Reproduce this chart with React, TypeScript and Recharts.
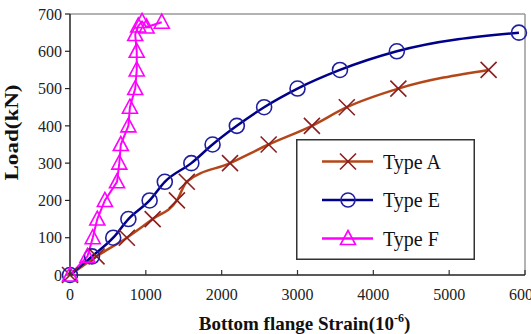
import { Legend, Line, LineChart, ReferenceLine, XAxis, YAxis } from 'recharts'

const strainA = [0, 350, 750, 1090, 1410, 1540, 2110, 2620, 3190, 3650, 4330, 5520]
const loadA = [0, 50, 100, 150, 200, 250, 300, 350, 400, 450, 500, 550]

const strainE = [0, 290, 570, 770, 1050, 1250, 1600, 1880, 2200, 2560, 3000, 3560, 4310, 5920]
const loadE = [0, 50, 100, 150, 200, 250, 300, 350, 400, 450, 500, 550, 600, 650]

const strainF = [0, 230, 300, 360, 460, 620, 650, 670, 770, 790, 860, 880, 880, 860, 900, 950, 1010, 1210]
const loadF = [0, 50, 100, 150, 200, 250, 300, 350, 400, 450, 500, 550, 600, 645, 668, 680, 665, 678]

const xTicks = [0, 1000, 2000, 3000, 4000, 5000, 6000]
const yTicks = [0, 100, 200, 300, 400, 500, 600, 700]

const seriesNames = ['Type A', 'Type E', 'Type F']

const FONT = '"Liberation Serif", "Times New Roman", serif'

const zip = (xs: number[], ys: number[]) => xs.map((x, i) => ({ strain: x, load: ys[i] }))

const dataA = zip(strainA, loadA)
const dataE = zip(strainE, loadE)
const dataF = zip(strainF, loadF)

const COLOR_A = '#b4471a'
const MARK_A = '#8b1f1f'
const COLOR_E = '#00008b'
const MARK_E = '#1f1fa0'
const COLOR_F = '#ff00ff'

const crossPath = (cx: number, cy: number) =>
	`M${cx - 8},${cy - 8}L${cx + 8},${cy + 8}M${cx - 8},${cy + 8}L${cx + 8},${cy - 8}`

const trianglePath = (cx: number, cy: number) =>
	`M${cx},${cy - 8}L${cx + 7.5},${cy + 6}L${cx - 7.5},${cy + 6}Z`

const CrossDot = (props: any) => {
	const { cx, cy, index } = props
	if (cx == null || cy == null) return <g key={`a-${index}`} />
	return <path key={`a-${index}`} d={crossPath(cx, cy)} stroke={MARK_A} strokeWidth={1.6} fill='none' />
}

const CircleDot = (props: any) => {
	const { cx, cy, index } = props
	if (cx == null || cy == null) return <g key={`e-${index}`} />
	return <circle key={`e-${index}`} cx={cx} cy={cy} r={7.5} stroke={MARK_E} strokeWidth={1.6} fill='none' />
}

const TriangleDot = (props: any) => {
	const { cx, cy, index } = props
	if (cx == null || cy == null) return <g key={`f-${index}`} />
	return <path key={`f-${index}`} d={trianglePath(cx, cy)} stroke={COLOR_F} strokeWidth={1.6} fill='none' />
}

const XTick = ({ x, y, payload }: any) => (
	<g>
		<line x1={x} y1={y} x2={x} y2={y - 5} stroke='#333' strokeWidth={1.2} />
		<text x={x} y={y + 25} textAnchor='middle' fontSize={16} fill='#222' fontFamily={FONT}>
			{payload.value}
		</text>
	</g>
)

const LegendBox = () => {
	const rows = [
		{ color: COLOR_A, icon: <path d={crossPath(52, 22.5)} stroke={MARK_A} strokeWidth={1.6} fill='none' /> },
		{ color: COLOR_E, icon: <circle cx={52} cy={61} r={7} stroke={MARK_E} strokeWidth={1.6} fill='none' /> },
		{ color: COLOR_F, icon: <path d={trianglePath(52, 99.5)} stroke={COLOR_F} strokeWidth={1.6} fill='none' /> },
	]
	const rowY = [22.5, 61, 99.5]
	return (
		<svg width={179} height={121} style={{ display: 'block' }}>
			<rect x={0.75} y={0.75} width={177.5} height={119.5} fill='#fff' stroke='#333' strokeWidth={1.5} />
			{rows.map((r, i) => (
				<g key={seriesNames[i]}>
					<line x1={26} y1={rowY[i]} x2={77} y2={rowY[i]} stroke={r.color} strokeWidth={2.5} />
					{r.icon}
					<text x={87} y={rowY[i] + 7} fontSize={20} fill='#111' fontFamily={FONT}>
						{seriesNames[i]}
					</text>
				</g>
			))}
		</svg>
	)
}

export default function App() {
	return (
		<div style={{ position: 'absolute', left: 0, top: 0, background: '#fff' }}>
			<LineChart width={531} height={334} margin={{ top: 14, right: 6, left: 0, bottom: 0 }}>
				<XAxis
					type='number'
					dataKey='strain'
					domain={[0, 6000]}
					ticks={xTicks}
					height={59}
					tickSize={0}
					tickMargin={0}
					tickLine={false}
					tick={<XTick />}
					interval={0}
					axisLine={{ stroke: '#222', strokeWidth: 1.5 }}
					label={{
						content: (p: any) => {
							const vb = p.viewBox
							return (
								<text
									x={vb.x + vb.width / 2 + 7}
									y={vb.y + 55}
									textAnchor='middle'
									fontSize={19}
									fontWeight={700}
									fill='#111'
									fontFamily={FONT}
								>
									<tspan>Bottom flange Strain(10</tspan>
									<tspan dy={-8} fontSize={12}>-6</tspan>
									<tspan dy={8}>)</tspan>
								</text>
							)
						},
					}}
				/>
				<YAxis
					type='number'
					dataKey='load'
					domain={[0, 700]}
					ticks={yTicks}
					width={70}
					interval={0}
					tickSize={5}
					tickMargin={3}
					tick={{ fontSize: 16, fill: '#222', fontFamily: FONT }}
					tickLine={{ stroke: '#222', strokeWidth: 1.2 }}
					axisLine={{ stroke: '#222', strokeWidth: 1.5 }}
					label={{
						content: (p: any) => {
							const vb = p.viewBox
							const cx = vb.x + 12
							const cy = vb.y + vb.height / 2 - 12
							return (
								<text
									x={cx}
									y={cy}
									transform={`rotate(-90 ${cx} ${cy})`}
									textAnchor='middle'
									dominantBaseline='central'
									fontSize={18}
									fontWeight={700}
									fill='#111'
									fontFamily={FONT}
									textLength={96}
									lengthAdjust='spacingAndGlyphs'
								>
									Load(kN)
								</text>
							)
						},
					}}
				/>
				<ReferenceLine y={700} stroke='#9a9a9a' strokeWidth={1.5} />
				<ReferenceLine x={6000} stroke='#9a9a9a' strokeWidth={1.5} />
				<Legend
					layout='vertical'
					align='center'
					verticalAlign='middle'
					wrapperStyle={{ left: 296, top: 139, width: 179, height: 121 }}
					content={() => <LegendBox />}
				/>
				<Line
					data={dataA}
					dataKey='load'
					name={seriesNames[0]}
					type='monotone'
					stroke={COLOR_A}
					strokeWidth={2.5}
					dot={CrossDot}
					activeDot={false}
					isAnimationActive={false}
				/>
				<Line
					data={dataE}
					dataKey='load'
					name={seriesNames[1]}
					type='monotone'
					stroke={COLOR_E}
					strokeWidth={2.5}
					dot={CircleDot}
					activeDot={false}
					isAnimationActive={false}
				/>
				<Line
					data={dataF}
					dataKey='load'
					name={seriesNames[2]}
					type='linear'
					stroke={COLOR_F}
					strokeWidth={2}
					dot={TriangleDot}
					activeDot={false}
					isAnimationActive={false}
				/>
			</LineChart>
		</div>
	)
}
